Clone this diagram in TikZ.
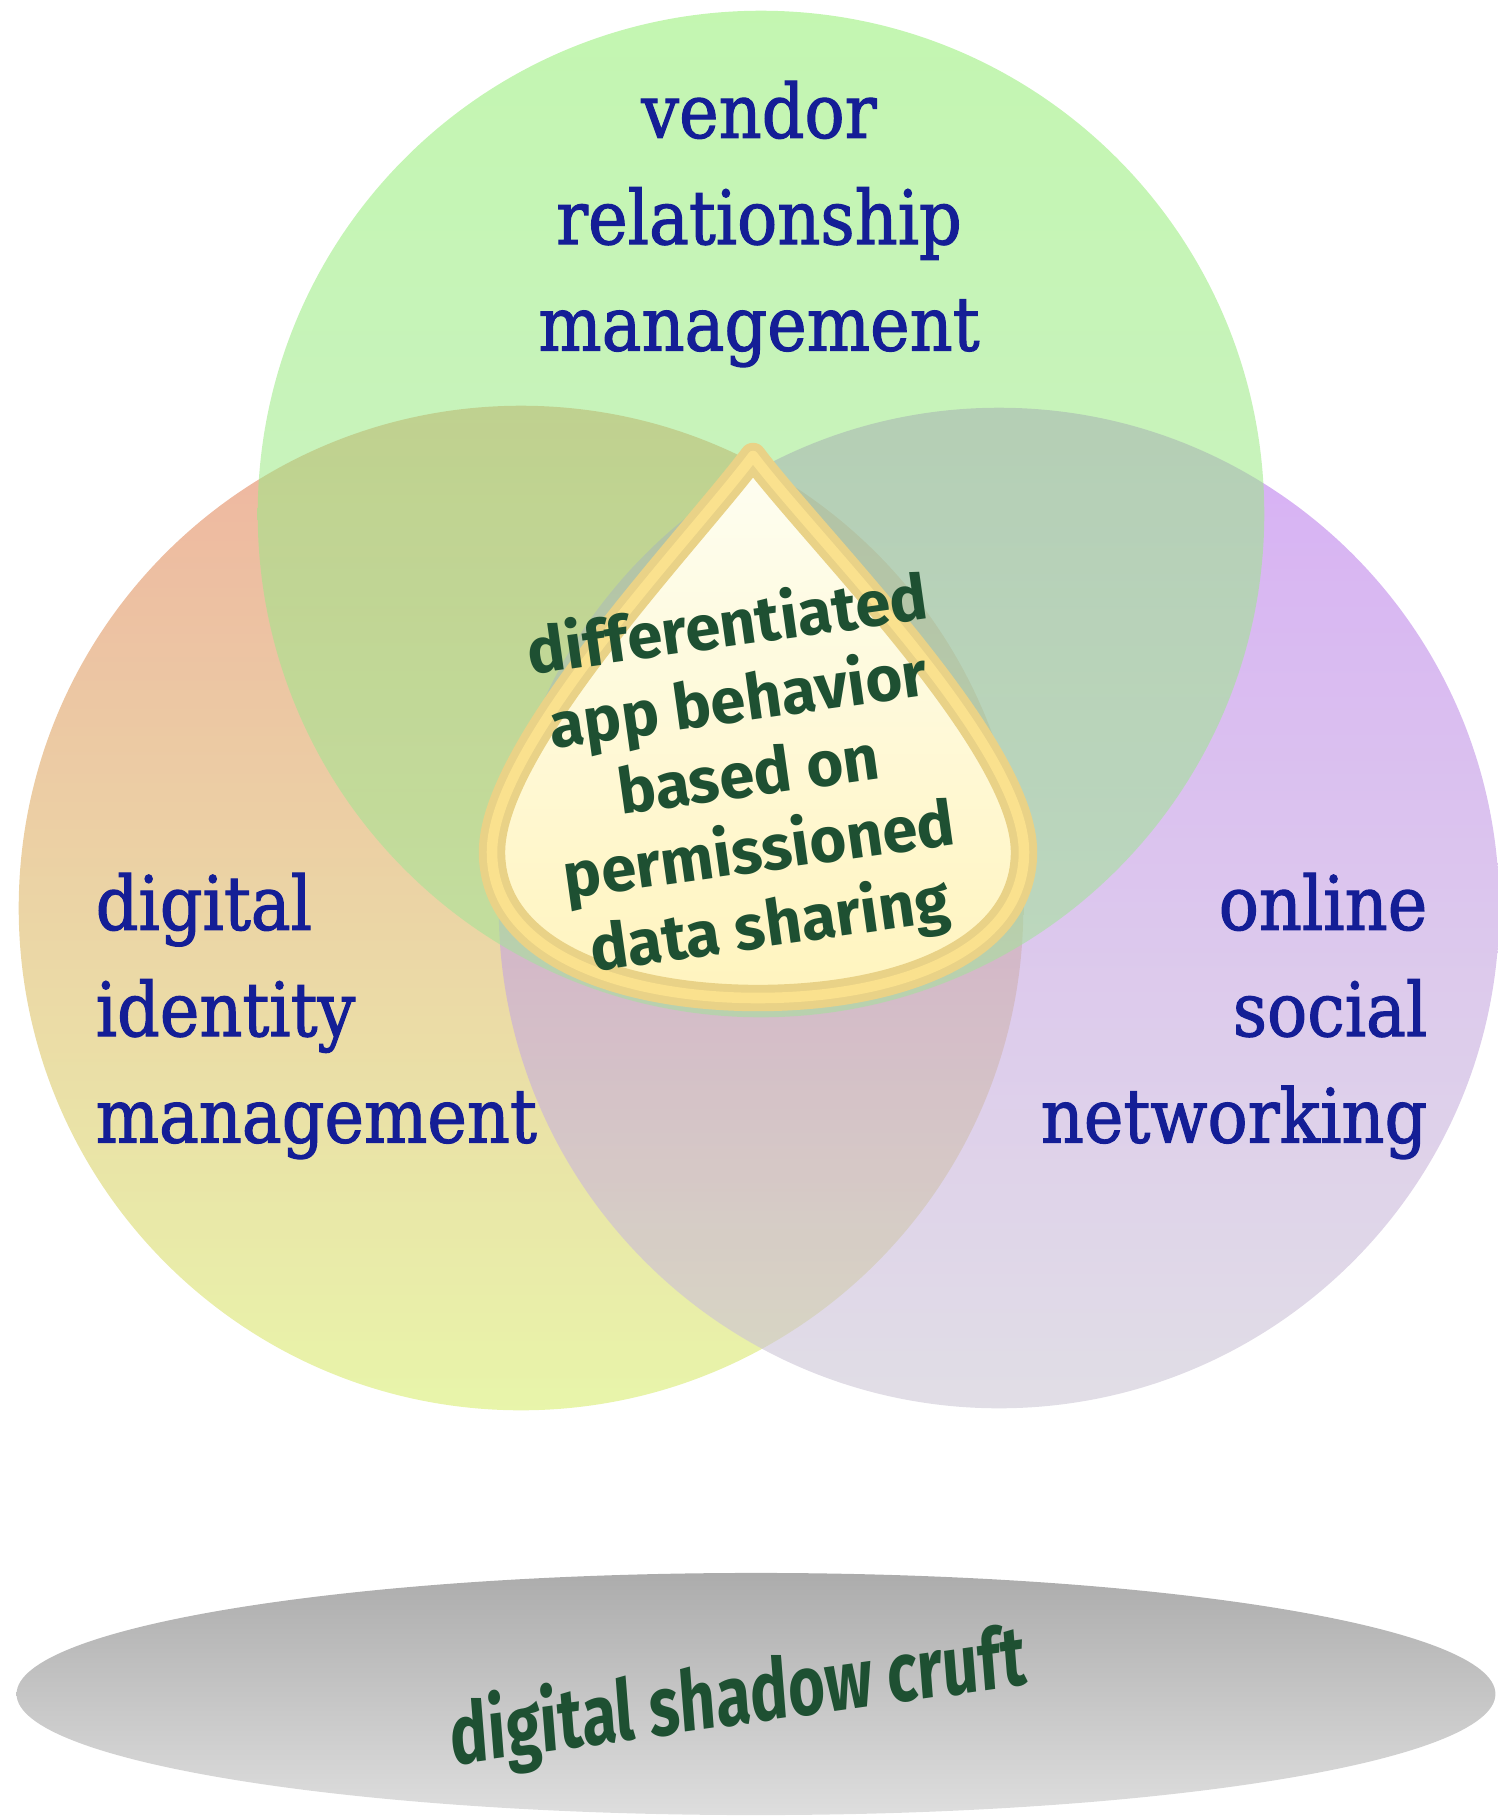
\documentclass[tikz,border=0pt]{standalone}
\usepackage{fontspec}
\usepackage{tikz}
\usepackage{xcolor}
\usetikzlibrary{positioning}
\newfontfamily\labelfont[FakeBold=1.6]{DejaVu Serif}
\newfontfamily\handfont{Fira Sans}
\definecolor{VendorTop}{RGB}{147, 238, 113}
\definecolor{VendorBottom}{RGB}{163, 227, 155}
\definecolor{IdentityTop}{RGB}{227, 130, 97}
\definecolor{IdentityBottom}{RGB}{217, 238, 113}
\definecolor{SocialTop}{RGB}{188, 122, 238}
\definecolor{SocialBottom}{RGB}{205, 200, 213}
\definecolor{LabelBlue}{RGB}{20, 30, 150}
\definecolor{DropGreen}{RGB}{30, 80, 50}
\definecolor{DropRing}{RGB}{233, 210, 135}
\definecolor{DropRingLight}{RGB}{250, 225, 142}
\definecolor{DropTop}{RGB}{254, 254, 242}
\definecolor{DropBottom}{RGB}{255, 244, 190}
\definecolor{CruftTop}{RGB}{172, 172, 172}
\definecolor{CruftBottom}{RGB}{222, 222, 222}
\newcommand{\droppath}{(753,456) .. controls (690,540) and (492,745) .. (492,852)
  .. controls (492,952) and (620,998) .. (758,998)
  .. controls (896,998) and (1024,952) .. (1024,852)
  .. controls (1024,745) and (816,540) .. (753,456) -- cycle}

\begin{document}
\begin{tikzpicture}[x=0.01cm, y=-0.01cm,
    circlelabel/.style={font=\labelfont\fontsize{19}{27}\selectfont, text=LabelBlue, inner sep=0pt, yscale=1.12},
    handtext/.style={font=\handfont\bfseries\fontsize{18}{21.5}\selectfont, text=DropGreen, inner sep=0pt, align=center}]
        \useasboundingbox (0,0) rectangle (1498,1817);

        % Venn circles
        \shade[top color=IdentityTop, bottom color=IdentityBottom, fill opacity=0.6] (521,908) circle (5.02cm);
        \shade[top color=SocialTop, bottom color=SocialBottom, fill opacity=0.6] (999,908) circle (5.00cm);
        \shade[top color=VendorTop, bottom color=VendorBottom, fill opacity=0.55] (761,514) circle (5.03cm);

        % Circle labels
        \node[circlelabel, align=center] (vendor) at (759,224) {vendor\\relationship\\management};
        \node[circlelabel, align=left, anchor=west] (identity) at (95,1016) {digital\\identity\\management};
        \node[circlelabel, align=right, anchor=east] (social) at (1428,1016) {online\\social\\networking};

        % Drop in the middle
        \begin{scope}[shift={(0,12)}]
            \fill[black, opacity=0.12] \droppath;
        \end{scope}
        \shade[top color=DropTop, bottom color=DropBottom] \droppath;
        \draw[DropRing, line width=7.5pt, line join=round] \droppath;
        \draw[DropRingLight, line width=3pt, line join=round] \droppath;
        \node[handtext, rotate=8] (behavior) at (749,778) {differentiated\\app behavior\\based on\\permissioned\\data sharing};

        % Shadow ellipse
        \shade[top color=CruftTop, bottom color=CruftBottom] (756,1694) ellipse (7.39cm and 1.21cm);
        \node[handtext, font=\handfont\bfseries\fontsize{24}{26}\selectfont, xscale=0.75, rotate=6] (cruft) at (738,1700) {digital shadow cruft};
    \end{tikzpicture}
\end{document}
